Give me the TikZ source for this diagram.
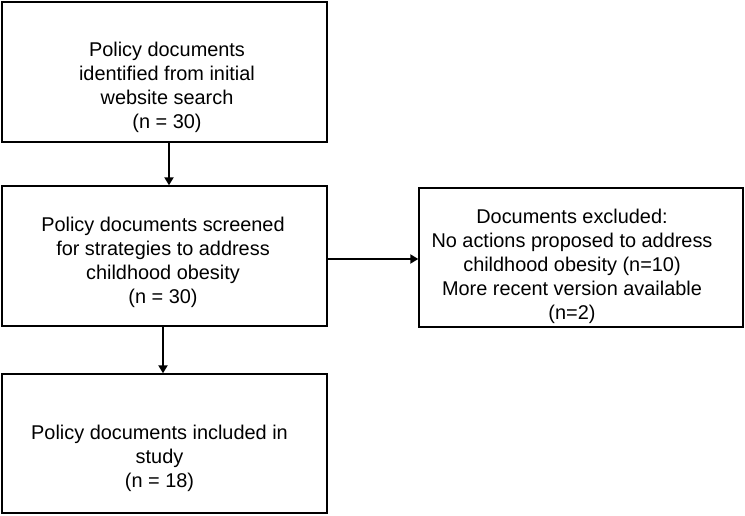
\documentclass[tikz,border=0pt]{standalone}
\usepackage{fontspec}
\setmainfont{Liberation Sans}
\usetikzlibrary{arrows.meta,calc}
\begin{document}
\begin{tikzpicture}[x=1pt,y=-1pt,
  box/.style={draw=black, line width=1.4pt, inner sep=0pt},
  txt/.style={align=center, inner sep=0pt, font=\fontsize{19.9}{24}\selectfont, text=black},
  arr/.style={line width=2pt, -{Triangle[length=8pt,width=9pt]}}]
\useasboundingbox (0,0) rectangle (745,516);
\node[box, minimum width=325pt, minimum height=140pt] (b1) at (164.5,72) {};
\node[box, minimum width=325pt, minimum height=140pt] (b2) at (164.5,256) {};
\node[box, minimum width=324pt, minimum height=139pt] (b3) at (581,257.5) {};
\node[box, minimum width=325pt, minimum height=139pt] (b4) at (164.5,443.5) {};
\node[txt] (t1) at (167,87.5) {Policy documents\\identified from initial\\website search\\(n = 30)};
\node[txt] (t2) at (163,262) {Policy documents screened\\for strategies to address\\childhood obesity\\(n = 30)};
\node[txt] (t3) at (572,266.5) {Documents excluded:\\No actions proposed to address\\childhood obesity (n=10)\\More recent version available\\(n=2)};
\node[txt] (t4) at (159.5,458.5) {Policy documents included in\\study\\(n = 18)};
\draw[arr] ([xshift=4.5pt]b1.south) -- ([xshift=4.5pt]b2.north);
\draw[arr] ([xshift=-1.5pt]b2.south) -- ([xshift=-1.5pt]b4.north);
\draw[arr] ([yshift=-3pt]b2.east) -- ([yshift=-3pt]b2.east -| b3.west);
\end{tikzpicture}
\end{document}
